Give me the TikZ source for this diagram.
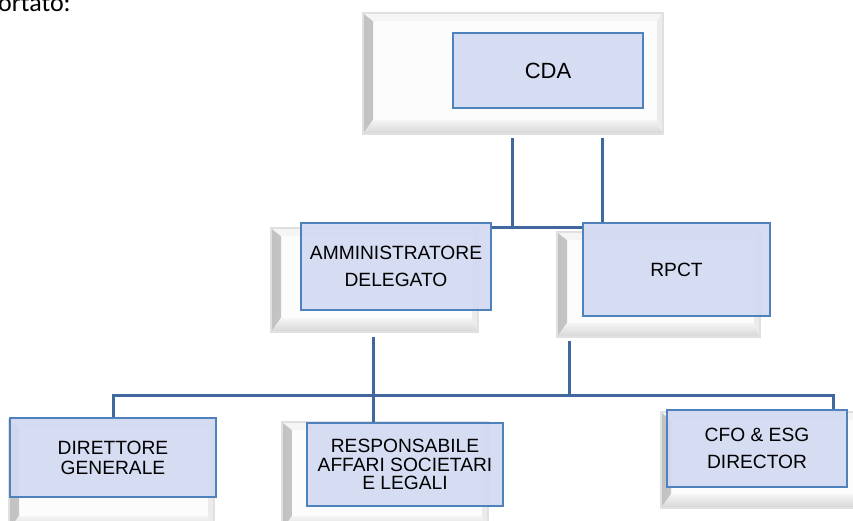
\documentclass[tikz,border=0pt]{standalone}
\usepackage{fontspec}
\setmainfont{Liberation Sans}
\newfontfamily\bodyfont{Carlito}
\definecolor{boxfill}{RGB}{210,217,241}
\definecolor{boxline}{RGB}{79,129,189}
\definecolor{linkblue}{RGB}{65,104,158}

\begin{document}
\begin{tikzpicture}[x=1pt, y=-1pt,
  frame/.style={draw=black!12, line width=1.2pt, fill=black!1, inner sep=0pt,
    path picture={
      \shade[left color=black!24, right color=black!6]
        (path picture bounding box.north west) -- (path picture bounding box.south west)
        -- ([xshift=10pt,yshift=14pt]path picture bounding box.south west)
        -- ([xshift=10pt,yshift=-8pt]path picture bounding box.north west) -- cycle;
      \shade[top color=black!4, bottom color=black!16]
        (path picture bounding box.south west) -- (path picture bounding box.south east)
        -- ([xshift=-6pt,yshift=14pt]path picture bounding box.south east)
        -- ([xshift=10pt,yshift=14pt]path picture bounding box.south west) -- cycle;
      \fill[black!4]
        (path picture bounding box.north west) -- (path picture bounding box.north east)
        -- ([xshift=-6pt,yshift=-8pt]path picture bounding box.north east)
        -- ([xshift=10pt,yshift=-8pt]path picture bounding box.north west) -- cycle;
      \fill[black!8]
        (path picture bounding box.north east) -- (path picture bounding box.south east)
        -- ([xshift=-6pt,yshift=14pt]path picture bounding box.south east)
        -- ([xshift=-6pt,yshift=-8pt]path picture bounding box.north east) -- cycle;
    }},
  box/.style={draw=boxline, line width=1.3pt, fill=boxfill, fill opacity=0.9, text opacity=1,
    align=center, inner sep=0pt, font=\fontsize{19.2}{27}\selectfont},
  link/.style={draw=linkblue, line width=3pt}]
  \useasboundingbox (0,0) rectangle (853,520);

  % text cut off above the chart
  \node[anchor=base west, inner sep=0pt, font=\bodyfont\fontsize{26}{30}\selectfont] (frag) at (-2,11) {ortato:};

  % shadow frames behind the boxes
  \foreach \n/\x/\y/\w/\h in {cda/513/73.5/300/121, ad/374.5/280/207/104, rpct/658.5/284.5/203/105,
                              dg/111.5/475/205/110, resp/385/476/206/108, cfo/760.5/460/199/96}
    \node[frame, minimum width=\w pt, minimum height=\h pt] (\n F) at (\x,\y) {};

  \coordinate (j1) at (512,227);
  \coordinate (j2) at (602,137);
  \coordinate (j3) at (373,395);
  \coordinate (j4) at (569,395);
  \coordinate (j5) at (833,395);

  % boxes
  \node[box, minimum width=190pt, minimum height=75pt, font=\fontsize{22}{25}\selectfont] (cda) at (548,70.5) {CDA};
  \node[box, minimum width=190pt, minimum height=87pt] (ad) at (396,266.5) {AMMINISTRATORE\\DELEGATO};
  \node[box, minimum width=187pt, minimum height=93pt] (rpct) at (676.5,269.5) {RPCT};
  \node[box, minimum width=206pt, minimum height=79pt, font=\fontsize{19.2}{20}\selectfont] (dg) at (113,457.5) {DIRETTORE\\GENERALE};
  \node[box, minimum width=196pt, minimum height=83pt, font=\fontsize{19.2}{18.5}\selectfont] (resp) at (405,464.5) {RESPONSABILE\\AFFARI SOCIETARI\\E LEGALI};
  \node[box, minimum width=180pt, minimum height=77pt] (cfo) at (757,448.5) {CFO \& ESG\\DIRECTOR};

  % connectors
  \draw[link, shorten <=3pt] (j1 |- cdaF.south) -- (j1);
  \draw[link] (ad.east |- j1) -- (rpct.west |- j1);
  \draw[link, shorten <=3pt] (j2 |- cdaF.south) -- (j2 |- rpct.north);
  \draw[link, shorten <=4pt] (j3 |- adF.south) -- (j3 |- resp.north);
  \draw[link, shorten <=3pt] (j4 |- rpctF.south) -- (j4);
  \draw[link] (dg.north) |- (j5) -- (j5 |- cfo.north);
\end{tikzpicture}
\end{document}
